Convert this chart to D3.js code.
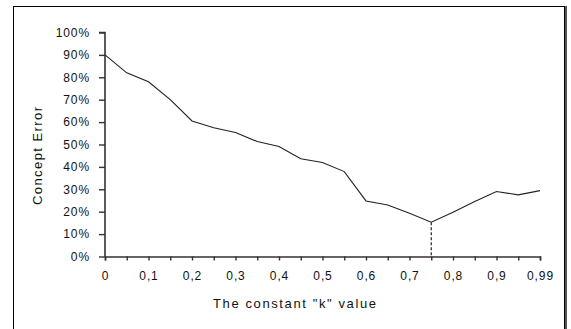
<!DOCTYPE html>
<html>
<head>
<meta charset="utf-8">
<script src="https://cdn.jsdelivr.net/npm/d3@7"></script>
<style>
body{margin:0;background:#fff;}
text{font-family:"Liberation Sans",Arial,sans-serif;fill:#111;}
</style>
</head>
<body>
<div id="root"></div>
<script>
// k values on the category axis (one point per 0,05 step, last is 0,99)
var kValues=[0,0.05,0.1,0.15,0.2,0.25,0.3,0.35,0.4,0.45,0.5,0.55,0.6,0.65,0.7,0.75,0.8,0.85,0.9,0.95,0.99];
// concept error
var errValues=[0.90,0.82,0.78,0.70,0.605,0.575,0.554,0.513,0.491,0.436,0.42,0.379,0.248,0.23,0.193,0.153,0.198,0.245,0.29,0.275,0.294];
// only every other category carries a label
var xTickLabels=['0','','0,1','','0,2','','0,3','','0,4','','0,5','','0,6','','0,7','','0,8','','0,9','','0,99'];
var yTicks=[0,0.1,0.2,0.3,0.4,0.5,0.6,0.7,0.8,0.9,1];
var bestK=0.75;

var W=571,H=329;
var svg=d3.select('#root').append('svg').attr('width',W).attr('height',H);

// chart frame
svg.append('rect').attr('x',13.5).attr('y',6.5).attr('width',551).attr('height',340)
   .attr('fill','none').attr('stroke','#000').attr('stroke-width',1);
svg.append('line').attr('x1',566).attr('x2',566).attr('y1',6).attr('y2',H)
   .attr('stroke','#555').attr('stroke-width',2);

var scaleX=d3.scalePoint().domain(kValues).range([105,540]);
var scaleY=d3.scaleLinear().domain([0,1]).range([256.5,32.5]);

var yAxis=d3.axisLeft(scaleY).tickValues(yTicks).tickSize(6).tickPadding(9).tickFormat(d3.format('.0%'));
var xAxis=d3.axisBottom(scaleX).tickSize(4).tickPadding(11)
   .tickFormat(function(d,i){return xTickLabels[i]});

var gy=svg.append('g').attr('transform','translate(105,0)').call(yAxis);
var gx=svg.append('g').attr('transform','translate(0,256.5)').call(xAxis);

[gx,gy].forEach(function(g){
  g.select('.domain').attr('stroke','#333').attr('stroke-width',1.6);
  g.selectAll('.tick line').attr('stroke','#333').attr('stroke-width',1.4);
  g.selectAll('.tick text').attr('font-size',12).attr('letter-spacing','0.9px').attr('fill','#111')
   .style('font-family','"Liberation Sans",Arial,sans-serif');
});
gy.select('.domain').attr('d','M-6,32.5H0V256.5');

// main line
var line=d3.line().x(function(d,i){return scaleX(kValues[i])}).y(function(d){return scaleY(d)});
svg.append('path').datum(errValues).attr('d',line).attr('fill','none')
   .attr('stroke','#222').attr('stroke-width',1.1);

// dashed drop line at the minimum
var bi=kValues.indexOf(bestK);
svg.append('line').attr('x1',scaleX(bestK)).attr('x2',scaleX(bestK))
   .attr('y1',scaleY(errValues[bi])).attr('y2',scaleY(0))
   .attr('stroke','#222').attr('stroke-width',1.2).attr('stroke-dasharray','3,2');

// axis titles
svg.append('text').attr('x',294.5).attr('y',307.5).attr('text-anchor','middle')
   .attr('font-size',13).attr('textLength',163).attr('lengthAdjust','spacing')
   .text('The constant "k" value');
svg.append('text').attr('transform','translate(42,156) rotate(-90)').attr('text-anchor','middle')
   .attr('font-size',13).attr('textLength',98).attr('lengthAdjust','spacing')
   .text('Concept Error');
</script>
</body>
</html>
